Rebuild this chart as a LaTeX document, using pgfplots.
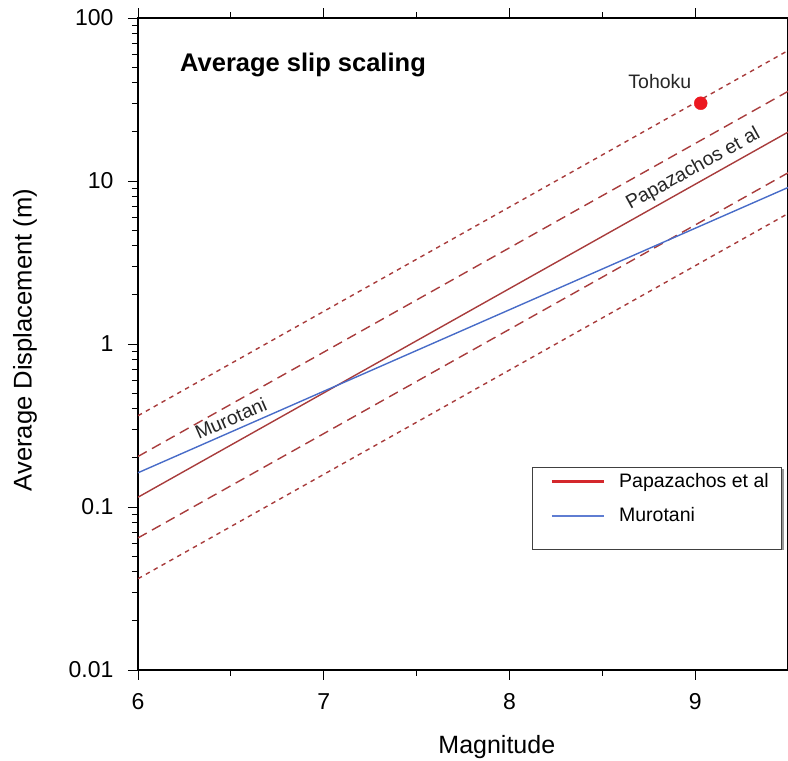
\documentclass[border=0pt]{standalone}
\usepackage{pgfplots}
\pgfplotsset{compat=1.18}
\usepackage{fontspec}
\setmainfont{Liberation Sans}
\definecolor{papa}{RGB}{168,60,60}
\definecolor{papaleg}{RGB}{212,40,44}
\definecolor{muro}{RGB}{72,108,200}
\definecolor{muroleg}{RGB}{95,125,210}
\definecolor{toh}{RGB}{236,24,32}
\begin{document}
\begin{tikzpicture}
\begin{axis}[
  scale only axis, width=650pt, height=652pt,
  xmin=6, xmax=9.5, ymode=log, ymin=0.01, ymax=100,
  xtick={6,7,8,9}, xticklabels={6,7,8,9},
  minor x tick num=1,
  ytick={0.01,0.1,1,10,100}, yticklabels={0.01,0.1,1,10,100},
  tick align=outside, axis line style={line width=1.3pt},
  major tick length=10pt, minor tick length=6pt,
  every tick/.style={black, line width=0.9pt},
  ticklabel style={font=\fontsize{23}{23}\selectfont},
  xticklabel shift=10pt, yticklabel shift=11pt,
  xlabel={Magnitude}, ylabel={Average Displacement (m)},
  every axis x label/.style={at={(rel axis cs:0.552,0)}, yshift=-77pt, anchor=center, font=\fontsize{25}{25}\selectfont},
  every axis y label/.style={at={(rel axis cs:0,0.506)}, xshift=-113pt, rotate=90, anchor=center, font=\fontsize{25.6}{25.6}\selectfont},
  legend style={at={(rel axis cs:0.991,0.311)}, anchor=north east,
    draw=black!75, line width=0.8pt, inner xsep=13pt, inner ysep=6pt,
    font=\fontsize{19.5}{19.5}\selectfont, cells={anchor=west},
    nodes={inner sep=0pt}, row sep=18.5pt, column sep=14pt},
]
\fill[black!40] (rel axis cs:0.6139,0.1840) rectangle (rel axis cs:0.9939,0.3082);
\addlegendimage{legend image code/.code={\draw[papaleg, line width=2.4pt] (7pt,0pt) -- (59pt,0pt);}}
\addlegendentry{Papazachos et al}
\addlegendimage{legend image code/.code={\draw[muroleg, line width=1.9pt] (7pt,0pt) -- (59pt,0pt);}}
\addlegendentry{Murotani}
\addlegendimage{empty legend}
\addlegendentry{}
\addplot[papa, line width=1.4pt, forget plot] coordinates {(6,0.1148) (9.5,19.95)};
\addplot[papa, line width=1.4pt, dash pattern=on 10pt off 6pt, forget plot] coordinates {(6,0.2042) (9.5,35.48)};
\addplot[papa, line width=1.4pt, dash pattern=on 10pt off 6pt, forget plot] coordinates {(6,0.0646) (9.5,11.22)};
\addplot[papa, line width=1.4pt, dash pattern=on 4.5pt off 4.5pt, forget plot] coordinates {(6,0.3631) (9.5,63.10)};
\addplot[papa, line width=1.4pt, dash pattern=on 4.5pt off 4.5pt, forget plot] coordinates {(6,0.03631) (9.5,6.310)};
\addplot[muro, line width=1.4pt, forget plot] coordinates {(6,0.1622) (9.5,9.12)};
\addplot[only marks, mark=*, mark size=6.5pt, toh, forget plot] coordinates {(9.03,30)};
\node[anchor=west, inner sep=0pt, font=\bfseries\fontsize{25.5}{25.5}\selectfont] at (rel axis cs:0.0646,0.928) {Average slip scaling};
\node[font=\fontsize{19.5}{19.5}\selectfont, rotate=29, text=black!85] at (axis cs:8.99,11.8) {Papazachos et al};
\node[font=\fontsize{19.5}{19.5}\selectfont, rotate=23.5, text=black!85] at (axis cs:6.50,0.35) {Murotani};
\node[font=\fontsize{19.5}{19.5}\selectfont, text=black!85] at (axis cs:8.81,41) {Tohoku};
\coordinate (sw) at (rel axis cs:0,0);
\coordinate (ne) at (rel axis cs:1,1);
\end{axis}
\pgfresetboundingbox
\path ([xshift=-138pt,yshift=-90pt]sw) rectangle ([yshift=18pt]ne);
\end{tikzpicture}
\end{document}
